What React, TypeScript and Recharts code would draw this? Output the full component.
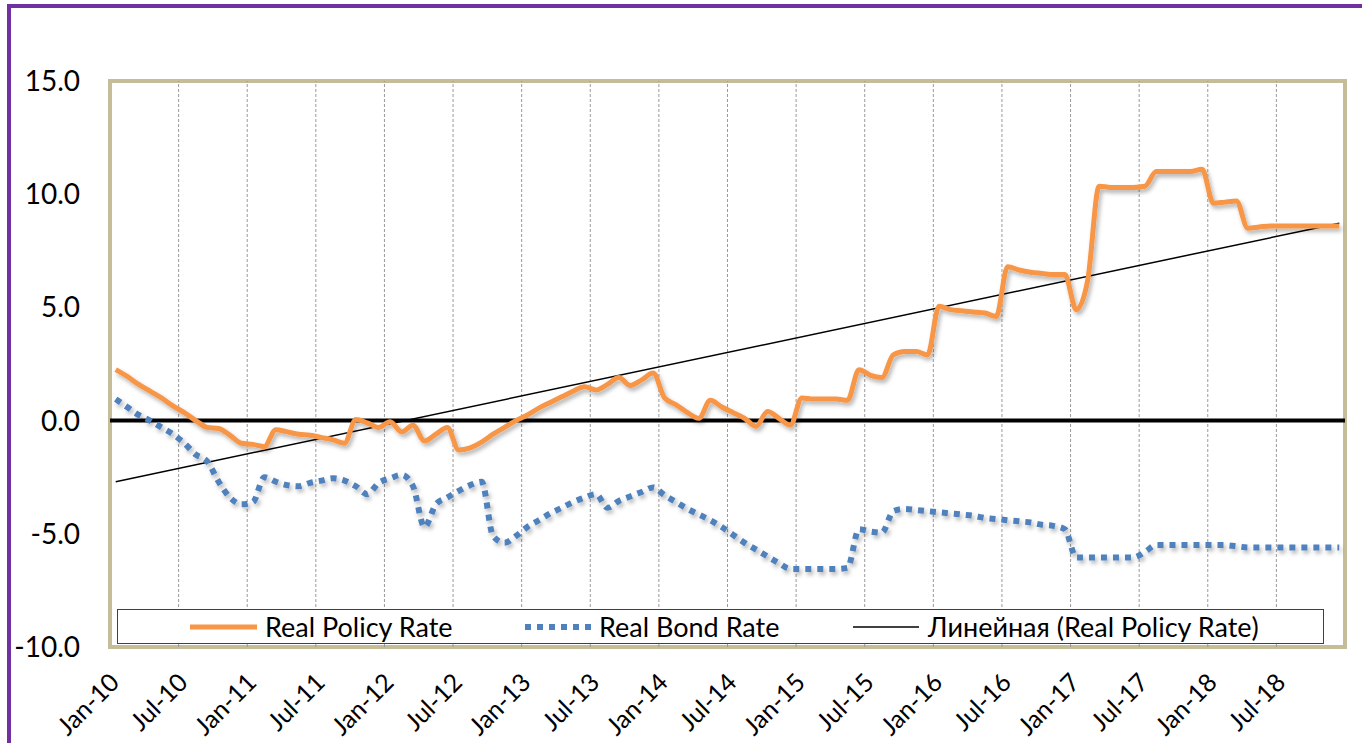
import {
  LineChart,
  Line,
  XAxis,
  YAxis,
  ReferenceLine,
  ReferenceArea,
} from "recharts";

const tickLabels = [
  "Jan-10", "Jul-10", "Jan-11", "Jul-11", "Jan-12", "Jul-12",
  "Jan-13", "Jul-13", "Jan-14", "Jul-14", "Jan-15", "Jul-15",
  "Jan-16", "Jul-16", "Jan-17", "Jul-17", "Jan-18", "Jul-18",
];

// monthly, Jan-10 .. Dec-18
const realPolicyRate = [
  2.25, 1.95, 1.6, 1.3, 1.0, 0.65, 0.35, 0.0, -0.3, -0.35, -0.65, -1.0,
  -1.05, -1.15, -0.4, -0.5, -0.6, -0.65, -0.75, -0.85, -1.0, 0.05, -0.1, -0.3,
  -0.05, -0.5, -0.2, -0.9, -0.6, -0.3, -1.3, -1.2, -0.95, -0.6, -0.3, 0.0,
  0.25, 0.55, 0.8, 1.05, 1.3, 1.5, 1.35, 1.6, 1.9, 1.55, 1.8, 2.1,
  1.0, 0.7, 0.35, 0.1, 0.9, 0.6, 0.35, 0.1, -0.25, 0.4, 0.1, -0.2,
  1.0, 0.95, 0.95, 0.95, 0.9, 2.25, 2.0, 1.9, 2.9, 3.05, 3.05, 2.9,
  5.05, 4.9, 4.85, 4.8, 4.75, 4.6, 6.8, 6.65, 6.55, 6.5, 6.45, 6.45,
  4.9, 6.2, 10.35, 10.3, 10.3, 10.3, 10.35, 11.0, 11.0, 11.0, 11.0, 11.1,
  9.6, 9.65, 9.7, 8.5, 8.55, 8.6, 8.6, 8.6, 8.6, 8.6, 8.6, 8.6,
];

const realBondRate = [
  0.95, 0.6, 0.25, 0.0, -0.3, -0.6, -1.0, -1.5, -1.8, -2.7, -3.4, -3.7,
  -3.6, -2.5, -2.7, -2.85, -2.9, -2.75, -2.65, -2.55, -2.65, -2.9, -3.25, -2.75,
  -2.55, -2.4, -2.9, -4.7, -3.7, -3.4, -3.1, -2.85, -2.7, -5.1, -5.4, -5.1,
  -4.7, -4.4, -4.1, -3.85, -3.6, -3.4, -3.25, -3.85, -3.55, -3.35, -3.15, -2.95,
  -3.3, -3.6, -3.9, -4.15, -4.4, -4.7, -5.05, -5.4, -5.7, -6.0, -6.3, -6.55,
  -6.55, -6.55, -6.55, -6.55, -6.5, -4.8, -4.9, -4.95, -4.0, -3.9, -3.95, -4.0,
  -4.05, -4.1, -4.15, -4.2, -4.3, -4.35, -4.4, -4.45, -4.5, -4.6, -4.65, -4.8,
  -6.05, -6.05, -6.05, -6.05, -6.05, -6.05, -5.8, -5.5, -5.5, -5.5, -5.5, -5.5,
  -5.5, -5.5, -5.55, -5.6, -5.6, -5.6, -5.6, -5.6, -5.6, -5.6, -5.6, -5.6,
];

// linear trend of the policy rate, first and last month
const trendStart = -2.7;
const trendEnd = 8.72;

const yTicks = [-10, -5, 0, 5, 10, 15];

const chartData = realPolicyRate.map((v, i) => ({
  x: i + 0.5,
  policy: v,
  bond: realBondRate[i],
}));
const lastX = realPolicyRate.length - 0.5;
const labelTicks = tickLabels.map((_, i) => i * 6 + 0.5);
const gridLines = tickLabels.slice(1).map((_, i) => (i + 1) * 6);

const FONT = "Lato, 'Open Sans', sans-serif";

function XTick({ x, y, payload }: any) {
  const idx = Math.round((payload.value - 0.5) / 6);
  const tx = x + 5;
  const ty = y + 37;
  return (
    <text
      x={tx}
      y={ty}
      transform={`rotate(-45 ${tx} ${ty})`}
      textAnchor="end"
      fontSize={25}
      fontFamily={FONT}
      fill="#000"
    >
      {tickLabels[idx]}
    </text>
  );
}

function LegendBox() {
  const text = { position: "absolute" as const, top: 0, lineHeight: "34px", fontSize: 27, fontFamily: FONT, color: "#000", whiteSpace: "nowrap" as const };
  return (
    <div
      style={{
        position: "absolute",
        left: 117,
        top: 609,
        width: 1205,
        height: 33,
        border: "1px solid #404040",
        background: "#fff",
      }}
    >
      <svg width={1205} height={33} style={{ position: "absolute", left: 0, top: 0 }}>
        <line x1={72} x2={139} y1={17} y2={17} stroke="#F79646" strokeWidth={5} />
        <line x1={407} x2={473} y1={17} y2={17} stroke="#4F81BD" strokeWidth={6} strokeDasharray="6 6" />
        <line x1={735} x2={801} y1={17} y2={17} stroke="#000" strokeWidth={1.5} />
      </svg>
      <span style={{ ...text, left: 147 }}>Real Policy Rate</span>
      <span style={{ ...text, left: 481 }}>Real Bond Rate</span>
      <span style={{ ...text, left: 810 }}>Линейная (Real Policy Rate)</span>
    </div>
  );
}

export default function App() {
  return (
    <div
      style={{
        position: "fixed",
        left: 0,
        top: 0,
        width: 1362,
        height: 743,
        overflow: "hidden",
        background: "#fff",
      }}
    >
      <div
        style={{
          position: "absolute",
          left: 7,
          top: 4,
          width: 1400,
          height: 800,
          borderLeft: "4px solid #7030A0",
          borderTop: "4px solid #7030A0",
        }}
      />
      <div style={{ position: "absolute", left: 0, top: 0 }}>
        <LineChart
          width={1362}
          height={743}
          data={chartData}
          margin={{ top: 81, right: 17, bottom: 16, left: 10 }}
        >
          <defs>
            <filter id="sh" x="-5%" y="-5%" width="110%" height="120%">
              <feDropShadow dx={2} dy={3} stdDeviation={2} floodColor="#000" floodOpacity={0.3} />
            </filter>
          </defs>
          <XAxis
            type="number"
            dataKey="x"
            domain={[0, 108]}
            ticks={labelTicks}
            interval={0}
            axisLine={false}
            tickLine={false}
            tickSize={0}
            tickMargin={0}
            height={80}
            tick={<XTick />}
            allowDataOverflow
          />
          <YAxis
            domain={[-10, 15]}
            ticks={yTicks}
            interval={0}
            axisLine={false}
            tickLine={false}
            tickSize={0}
            tickMargin={30}
            width={100}
            tickFormatter={(v: number) => v.toFixed(1)}
            tick={{ fontSize: 28, fontFamily: FONT, fill: "#000" }}
          />
          {gridLines.map((g) => (
            <ReferenceLine key={g} x={g} stroke="#9a9a9a" strokeWidth={1} strokeDasharray="3 2" />
          ))}
          <ReferenceLine y={0} stroke="#000" strokeWidth={4} />
          <ReferenceLine
            segment={[
              { x: 0.5, y: trendStart },
              { x: lastX, y: trendEnd },
            ]}
            stroke="#000"
            strokeWidth={1.5}
          />
          <Line
            type="monotone"
            dataKey="bond"
            stroke="#4F81BD"
            strokeWidth={6}
            strokeDasharray="6 6"
            dot={false}
            filter="url(#sh)"
            isAnimationActive={false}
          />
          <Line
            type="monotone"
            dataKey="policy"
            stroke="#F79646"
            strokeWidth={5}
            dot={false}
            filter="url(#sh)"
            isAnimationActive={false}
          />
          <ReferenceArea
            x1={0}
            x2={108}
            y1={-10}
            y2={15}
            fill="none"
            fillOpacity={0}
            stroke="#C4BD97"
            strokeWidth={4}
            ifOverflow="visible"
          />
        </LineChart>
      </div>
      <LegendBox />
    </div>
  );
}
